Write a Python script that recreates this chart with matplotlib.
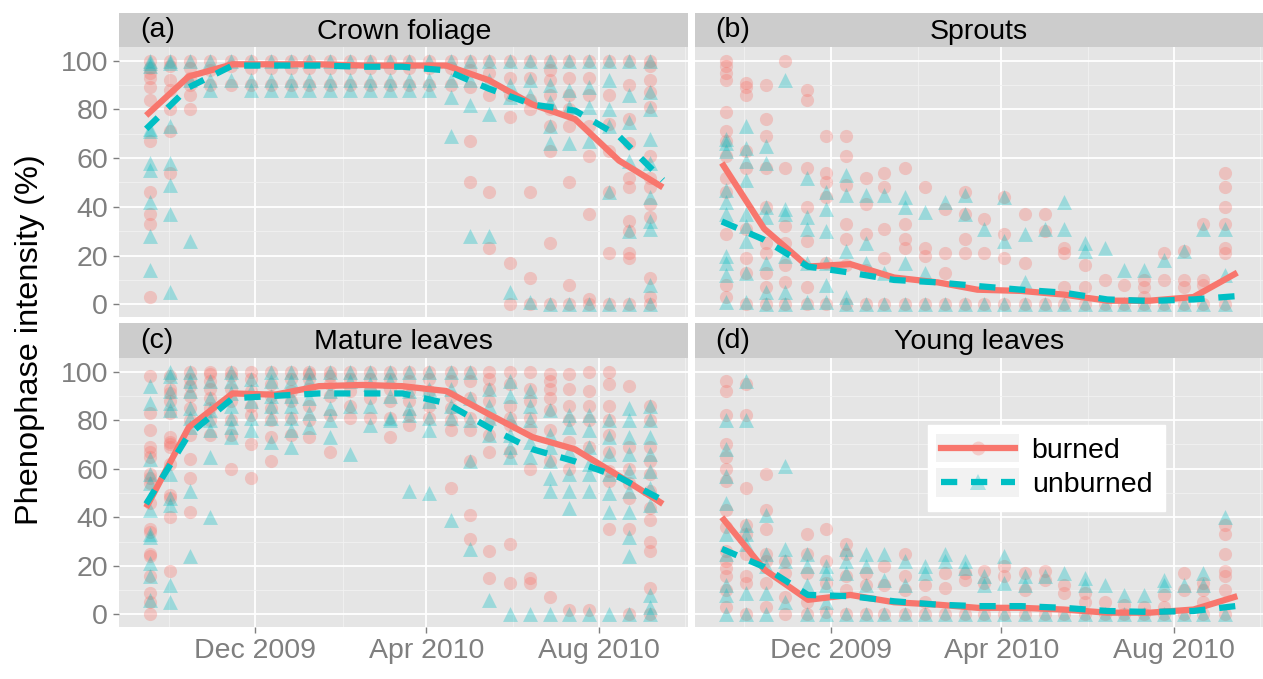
import pandas as pd
import matplotlib
matplotlib.use("Agg")
import matplotlib.pyplot as plt
import matplotlib.dates as mdates
from matplotlib.lines import Line2D
from matplotlib.patches import Rectangle
from matplotlib.legend_handler import HandlerLine2D

plt.rcParams["font.family"] = ["Liberation Sans", "DejaVu Sans"]

# sampling dates of the individual trees (about every two weeks)
sample_dates = pd.to_datetime([
    "2009-09-18", "2009-10-02", "2009-10-16", "2009-10-30", "2009-11-14", "2009-11-28",
    "2009-12-12", "2009-12-26", "2010-01-08", "2010-01-23", "2010-02-06", "2010-02-20",
    "2010-03-06", "2010-03-20", "2010-04-03", "2010-04-18", "2010-05-02", "2010-05-15",
    "2010-05-30", "2010-06-13", "2010-06-27", "2010-07-11", "2010-07-25", "2010-08-08",
    "2010-08-22", "2010-09-06"])
# monthly means
mean_dates = pd.to_datetime([
    "2009-09-15", "2009-10-15", "2009-11-15", "2009-12-15", "2010-01-15", "2010-02-15",
    "2010-03-15", "2010-04-15", "2010-05-15", "2010-06-15", "2010-07-15", "2010-08-15",
    "2010-09-15"])

# (a) crown foliage
crown_burned = [
    [100, 97, 95, 93, 89, 84, 67, 46, 37, 33, 3], [100, 98, 92, 88, 80, 71, 54],
    [100, 97, 93, 90, 86, 80], [100, 96, 90], [100, 98, 90],
    [100, 97, 90], [100, 97, 90], [100, 97, 90], [100, 97, 90], [100, 97, 90],
    [100, 97, 90], [100, 97, 90], [100, 97, 90], [100, 97, 90], [100, 97, 90],
    [100, 97, 90], [100, 96, 89, 67, 50], [100, 95, 86, 46, 23],
    [100, 93, 86, 77, 17, 0], [100, 93, 84, 80, 46, 11, 0],
    [100, 96, 92, 86, 80, 73, 63, 25, 0], [100, 93, 86, 80, 73, 50, 8, 0],
    [100, 93, 86, 73, 61, 37, 2, 0], [100, 86, 74, 63, 46, 21, 0],
    [100, 90, 76, 66, 52, 48, 34, 30, 21, 19, 0],
    [100, 98, 92, 87, 81, 61, 52, 48, 41, 36, 11, 3, 0]]
crown_unburned = [
    [100, 99, 98, 72, 71, 58, 55, 42, 28, 14], [100, 99, 73, 58, 49, 37, 5],
    [100, 92, 26], [100, 92, 88], [100, 92],
    [100, 92, 88], [100, 92, 88], [100, 92, 88], [100, 92, 88], [100, 92, 88],
    [100, 92, 88], [100, 92, 88], [100, 92, 88], [100, 92, 88], [100, 92, 88],
    [100, 92, 85, 69], [100, 92, 82, 28], [100, 92, 78, 28], [100, 90, 85, 5],
    [100, 92, 86, 1], [100, 90, 83, 73, 66, 0], [100, 88, 81, 66, 0],
    [100, 89, 81, 67, 0], [100, 92, 80, 73, 46, 0], [100, 86, 75, 59, 30, 0],
    [100, 87, 80, 68, 58, 44, 34, 31, 8, 0]]
crown_burned_mean = [77.5, 93.5, 98.5, 98.5, 98.5, 98, 98, 98, 92, 82, 76, 59, 48]
crown_unburned_mean = [72, 89, 98, 98, 98, 97.5, 97.5, 96, 88.5, 82, 79.5, 69, 51]

# (b) sprouts
sprouts_burned = [
    [100, 98, 95, 92, 79, 71, 67, 61, 52, 46, 29, 8, 3], [91, 89, 86, 63, 56, 31, 19, 13, 0],
    [90, 76, 69, 56, 40, 25, 21, 13, 7, 0], [100, 56, 32, 25, 16, 9, 0],
    [88, 84, 56, 40, 26, 7, 0], [69, 54, 50, 44, 17, 0], [69, 61, 49, 33, 27, 16, 0],
    [52, 41, 29, 14, 0], [54, 48, 31, 19, 0], [56, 33, 27, 23, 0], [48, 23, 20, 0],
    [39, 21, 13, 0], [46, 37, 27, 21, 0], [35, 21, 0], [44, 29, 19, 0], [37, 17, 0],
    [37, 30, 0], [23, 21, 7, 0], [16, 7, 0], [10, 0], [8, 0], [10, 7, 3, 0],
    [21, 10, 0], [22, 10, 7, 0], [33, 10, 8, 0], [54, 48, 40, 33, 23, 21, 0]]
sprouts_unburned = [
    [68, 66, 63, 47, 42, 37, 20, 17, 12, 1], [73, 64, 59, 51, 37, 32, 26, 13, 1],
    [65, 58, 40, 36, 17, 5, 0], [92, 39, 37, 20, 5, 0], [52, 36, 31, 17, 1],
    [46, 39, 30, 17, 8, 1], [53, 45, 22, 3, 0], [45, 25, 17, 0], [45, 13, 0],
    [44, 40, 17, 0], [38, 13, 0], [42, 0], [45, 37, 0], [31, 0], [44, 26, 0],
    [29, 9, 0], [31, 0], [42, 31, 0], [25, 22, 0], [23, 0], [14, 0], [14, 0],
    [18, 0], [22, 0], [31, 0], [31, 12, 0]]
sprouts_burned_mean = [58, 31, 15.5, 16.5, 11, 9, 6, 5.5, 4, 1.5, 1.5, 3, 13]
sprouts_unburned_mean = [34, 26.5, 15.5, 13, 10, 9, 7.5, 6, 4.8, 2, 1.4, 2, 3.4]

# (c) mature leaves
mature_burned = [
    [98, 83, 76, 69, 67, 65, 58, 56, 54, 46, 35, 34, 25, 24, 16, 9, 5, 0],
    [98, 93, 91, 88, 83, 73, 71, 70, 69, 62, 49, 48, 40, 18],
    [100, 97, 94, 90, 85, 80, 74, 64, 56, 42], [100, 99, 96, 93, 89, 85, 80, 74],
    [100, 98, 93, 88, 80, 74, 60], [100, 97, 92, 86, 82, 70, 56],
    [100, 95, 90, 85, 80, 73, 63], [100, 97, 92, 88, 81, 74],
    [100, 99, 97, 93, 86, 80, 73], [100, 98, 95, 90, 82, 67], [100, 97, 92, 86, 81],
    [100, 97, 93, 89, 81], [100, 97, 93, 88, 81, 73], [100, 96, 92, 88, 82, 78],
    [100, 97, 92, 86, 81], [100, 96, 90, 85, 80, 76, 52],
    [100, 96, 89, 81, 76, 63, 41, 31], [100, 97, 93, 88, 80, 74, 67, 26, 15],
    [100, 95, 86, 81, 78, 67, 29, 13], [100, 93, 88, 81, 76, 60, 15, 13],
    [99, 96, 93, 89, 84, 76, 63, 7], [99, 93, 86, 80, 71, 60, 2],
    [100, 92, 86, 80, 69, 2], [100, 95, 86, 80, 74, 67, 59, 55, 35],
    [94, 69, 60, 54, 48, 35, 0], [86, 80, 69, 63, 58, 51, 44, 39, 30, 26, 11, 0]]
mature_unburned = [
    [94, 87, 64, 58, 54, 43, 33, 32, 21, 16, 6], [100, 98, 92, 87, 84, 58, 48, 45, 12, 5],
    [100, 96, 92, 85, 81, 77, 51, 24], [96, 89, 84, 80, 76, 65, 40],
    [100, 96, 91, 86, 81, 77, 73], [97, 92, 88, 81, 76], [100, 96, 90, 86, 81, 71],
    [100, 96, 90, 86, 81, 76, 69], [100, 96, 89, 83, 77], [100, 92, 85, 80, 73],
    [100, 96, 86, 66], [100, 95, 86, 78], [100, 96, 90, 81, 80], [100, 92, 85, 82, 51],
    [100, 93, 88, 81, 76, 50], [100, 93, 86, 81, 39], [100, 89, 80, 63, 27],
    [93, 86, 81, 74, 6], [96, 90, 81, 74, 69, 65, 0], [92, 86, 80, 71, 65, 0],
    [84, 74, 69, 63, 56, 51, 0], [82, 77, 67, 58, 51, 44, 0], [82, 76, 69, 62, 58, 51, 0],
    [80, 73, 66, 58, 50, 42, 0], [85, 80, 73, 66, 59, 51, 42, 32, 24, 0],
    [86, 80, 73, 66, 59, 52, 45, 8, 3, 0]]
mature_burned_mean = [44, 77, 91, 90.5, 94, 94.5, 94, 92, 82.5, 73, 68, 57, 45.5]
mature_unburned_mean = [45.5, 74, 89, 90, 91, 91, 91, 87, 77, 68, 63, 56.5, 47]

# (d) young leaves
young_burned = [
    [96, 92, 82, 70, 65, 60, 55, 43, 36, 26, 22, 19, 16, 10, 3],
    [95, 82, 52, 37, 33, 25, 16, 13, 0], [58, 43, 35, 25, 22, 13, 3], [22, 17, 7, 0],
    [33, 25, 17, 5, 0], [35, 22, 13, 1], [29, 25, 16, 10, 0], [17, 12, 0], [20, 12, 0],
    [25, 16, 10, 0], [12, 5, 0], [17, 11, 0], [17, 14, 0], [18, 13, 0], [20, 16, 0],
    [17, 10, 0], [18, 14, 0], [12, 9, 0], [9, 5, 0], [5, 0], [4, 0], [3, 0],
    [8, 3, 0], [17, 10, 0], [13, 10, 5, 0], [37, 33, 25, 18, 16, 10, 0]]
young_unburned = [
    [80, 68, 57, 46, 33, 25, 12, 8, 0], [96, 80, 37, 33, 29, 9, 0], [41, 25, 20, 9, 0],
    [61, 27, 22, 5], [25, 20, 12, 0], [20, 17, 12, 5, 0], [27, 22, 17, 0],
    [25, 20, 12, 0], [25, 14, 0], [22, 12, 0], [20, 17, 0], [25, 22, 0], [22, 19, 0],
    [16, 12, 0], [24, 13, 0], [16, 12, 0], [16, 0], [17, 0], [15, 12, 0], [12, 0],
    [8, 0], [8, 0], [14, 12, 0], [12, 0], [17, 12, 0], [40, 0]]
young_burned_mean = [40, 18.5, 6, 8, 5, 4, 2.7, 2.7, 2, 0.7, 0.7, 2, 7.5]
young_unburned_mean = [27, 19.5, 8, 7.5, 5.4, 4, 3.4, 3.4, 2.7, 1.4, 1, 1.4, 3.5]

RED = "#F8766D"
CYAN = "#00BFC4"
W, H = 1263, 679


class KeyHandler(HandlerLine2D):
    # legend key drawn on a light grey square, ggplot style
    def create_artists(self, legend, orig_handle, xdescent, ydescent, width, height, fontsize, trans):
        bg = Rectangle((-xdescent - 3, -ydescent - 3), width + 6, height + 6,
                       facecolor="#F2F2F2", edgecolor="none", transform=trans)
        arts = super().create_artists(legend, orig_handle, xdescent, ydescent,
                                      width, height, fontsize, trans)
        return [bg] + list(arts)


fig = plt.figure(figsize=(W / 100, H / 100), dpi=100)


def px_axes(x0, y0, x1, y1):
    return fig.add_axes([x0 / W, 1 - y1 / H, (x1 - x0) / W, (y1 - y0) / H])


panels = [
    ("(a)", "Crown foliage", crown_burned, crown_unburned, crown_burned_mean, crown_unburned_mean, 0, 0),
    ("(b)", "Sprouts", sprouts_burned, sprouts_unburned, sprouts_burned_mean, sprouts_unburned_mean, 1, 0),
    ("(c)", "Mature leaves", mature_burned, mature_unburned, mature_burned_mean, mature_unburned_mean, 0, 1),
    ("(d)", "Young leaves", young_burned, young_unburned, young_burned_mean, young_unburned_mean, 1, 1),
]
cols = [(119.3, 688.3), (695, 1262.7)]
rows = [((13, 47), (47, 317)), ((323, 358), (358, 627))]

xnum = mdates.date2num(sample_dates)
mnum = mdates.date2num(mean_dates)
xlim = mdates.date2num(pd.to_datetime(["2009-08-27", "2010-10-03"]))
major = mdates.date2num(pd.to_datetime(["2009-12-01", "2010-04-01", "2010-08-01"]))
minor = mdates.date2num(pd.to_datetime(["2009-10-01", "2010-02-01", "2010-06-01", "2010-10-01"]))

for tag, title, burned, unburned, bmean, umean, c, r in panels:
    x0, x1 = cols[c]
    (sy0, sy1), (py0, py1) = rows[r]
    strip = px_axes(x0, sy0, x1, sy1)
    strip.set_facecolor("#CCCCCC")
    strip.set_xticks([]); strip.set_yticks([])
    for s in strip.spines.values():
        s.set_visible(False)
    strip.text(0.5, 0.45, title, ha="center", va="center", fontsize=20.5, transform=strip.transAxes)
    strip.text(0.036, 0.5, tag, ha="left", va="center", fontsize=20.5, transform=strip.transAxes)

    ax = px_axes(x0, py0, x1, py1)
    ax.set_facecolor("#E5E5E5")
    for s in ax.spines.values():
        s.set_visible(False)
    ax.set_xlim(*xlim)
    ax.set_ylim(-5.2, 105.6)
    ax.set_xticks(major)
    ax.set_xticks(minor, minor=True)
    ax.set_yticks([0, 20, 40, 60, 80, 100])
    ax.set_yticks([10, 30, 50, 70, 90], minor=True)
    ax.grid(which="major", color="white", lw=1.3)
    ax.grid(which="minor", color="#F2F2F2", lw=0.6)
    ax.set_axisbelow(True)
    ax.tick_params(which="minor", length=0)
    ax.tick_params(which="major", length=4, width=1, color="#7F7F7F",
                   labelcolor="#7F7F7F", labelsize=20.5, pad=4)
    ax.xaxis.set_major_formatter(mdates.DateFormatter("%b %Y"))
    if r == 0:
        ax.tick_params(axis="x", which="major", length=0, labelbottom=False)
    if c == 1:
        ax.tick_params(axis="y", which="major", length=0, labelleft=False)

    bx = [xnum[i] for i, v in enumerate(burned) for _ in v]
    by = [y for v in burned for y in v]
    ux = [xnum[i] for i, v in enumerate(unburned) for _ in v]
    uy = [y for v in unburned for y in v]
    ax.scatter(bx, by, s=90, marker="o", color=RED, alpha=0.32, lw=0, zorder=2)
    ax.scatter(ux, uy, s=115, marker="^", color=CYAN, alpha=0.32, lw=0, zorder=2)
    ax.plot(mnum, bmean, color=RED, lw=4.5, solid_capstyle="butt", zorder=3)
    ax.plot(mnum, umean, color=CYAN, lw=4.5, dashes=(2.6, 2.2), dash_capstyle="butt", zorder=4)

    if tag == "(d)":
        handles = [
            Line2D([], [], color=RED, lw=4.5, marker="o", markersize=10,
                   markerfacecolor=(0.973, 0.463, 0.427, 0.3), markeredgewidth=0),
            Line2D([], [], color=CYAN, lw=4.5, dashes=(2.6, 2.2), marker="^", markersize=11,
                   markerfacecolor=(0.0, 0.749, 0.769, 0.3), markeredgewidth=0),
        ]
        leg = ax.legend(handles, ["burned", "unburned"], loc="upper left",
                        bbox_to_anchor=(0.41, 0.751), borderaxespad=0, fontsize=20.5,
                        frameon=True, fancybox=False, framealpha=1, edgecolor="white",
                        handlelength=2.6, handletextpad=0.6, borderpad=0.45,
                        labelspacing=0.3,
                        handler_map={Line2D: KeyHandler()})
        leg.get_frame().set_facecolor("white")

fig.text(0.024, 0.5, "Phenophase intensity (%)", rotation=90, ha="center", va="center",
         fontsize=23.4)

fig.savefig("out.png", dpi=100)
